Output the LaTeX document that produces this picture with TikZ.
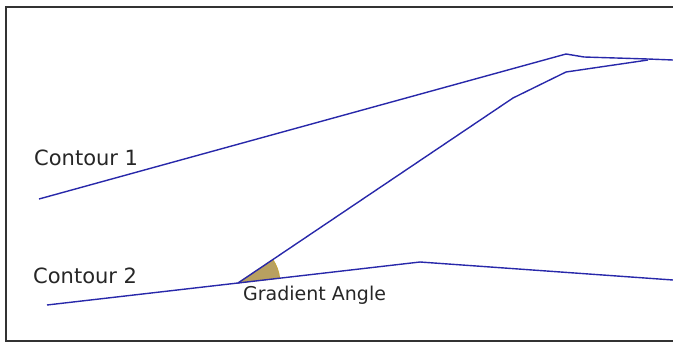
\documentclass[tikz,border=0pt]{standalone}
\usepackage{fontspec}
\setmainfont{DejaVu Sans}
\usetikzlibrary{positioning}

\definecolor{contourblue}{RGB}{40,40,170}
\definecolor{wedgefill}{RGB}{184,160,96}
\definecolor{wedgeedge}{RGB}{196,164,56}

\begin{document}
\begin{tikzpicture}[
        x=1pt, y=-1pt,
        contour/.style={line width=1.4pt, draw=contourblue, line join=round},
        frame/.style={line width=1.5pt, draw=black!80},
        wedge/.style={fill=wedgefill, draw=wedgeedge, line width=0.8pt},
        tag/.style={anchor=west, inner sep=0pt, text=black!85},
        bigtag/.style={tag, font=\fontsize{21}{24}\selectfont},
        smalltag/.style={tag, font=\fontsize{19}{22}\selectfont}
    ]

    \useasboundingbox (0,0) rectangle (673,343);

    % frame, open on the right
    \draw[frame] (673,7) -- (6,7) -- (6,341) -- (673,341);

    % key points
    \coordinate (foot) at (238,283);
    \coordinate (peak) at (420,262);

    % gradient angle wedge
    \filldraw[wedge] (foot) -- ++(-6.6:42) arc[start angle=-6.6, end angle=-34, radius=42] -- cycle;

    % Contour 1
    \draw[contour] (39,199) -- (566,54) -- (584,57) -- (648,59) -- (673,60);

    % Contour 2
    \draw[contour] (47,305) -- (foot) -- (peak) -- (673,280);

    % steepest path between the contours
    \draw[contour] (foot) -- (513,98) -- (566,72) -- (648,60);

    % labels
    \node[bigtag] (c1) at (34,158) {Contour 1};
    \node[bigtag] (c2) at (33,276) {Contour 2};
    \node[smalltag] (ga) at (243,295) {Gradient Angle};

\end{tikzpicture}
\end{document}
